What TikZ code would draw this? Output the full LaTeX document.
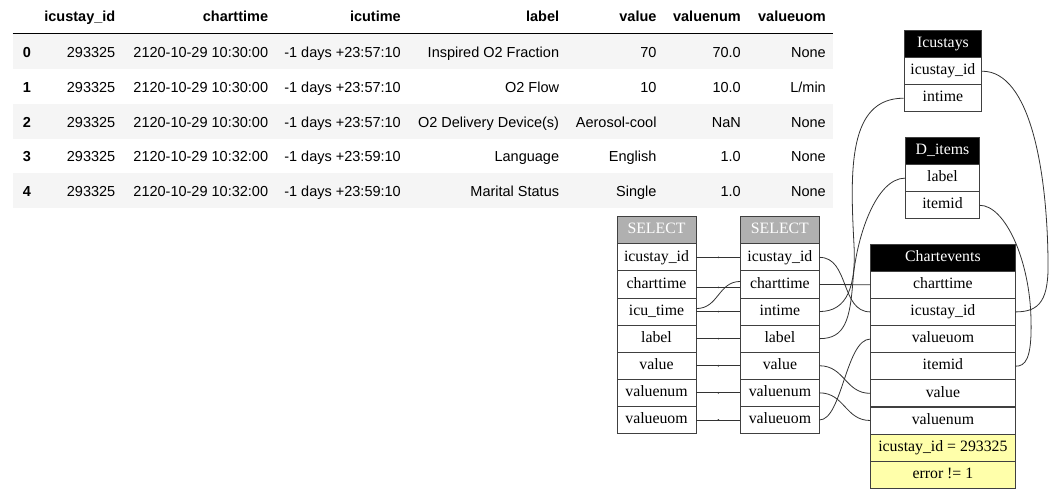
\documentclass[tikz,border=0pt]{standalone}
\usepackage{fontspec}
\newfontfamily\dffont{Liberation Sans}
\newfontfamily\gvfont{Liberation Serif}
\definecolor{rowgray}{HTML}{F5F5F5}
\definecolor{selgray}{HTML}{B0B0B0}
\definecolor{condyellow}{HTML}{FFFFAA}
\definecolor{linegray}{HTML}{333333}
\newcommand\dfrow[9]{%
  \node[dfidx] (r#1i) at (22.7,#2) {#1};
  \node[dfcell] (r#1a) at (115.5,#2) {#3};
  \node[dfcell] (r#1b) at (268.3,#2) {#4};
  \node[dfcell] (r#1c) at (401,#2) {#5};
  \node[dfcell] (r#1d) at (559.3,#2) {#6};
  \node[dfcell] (r#1e) at (656.7,#2) {#7};
  \node[dfcell] (r#1f) at (741,#2) {#8};
  \node[dfcell] (r#1g) at (826,#2) {#9};
}
\begin{document}
\begin{tikzpicture}[x=1pt,y=-1pt,
  dfcell/.style={anchor=base east, inner sep=0pt, font=\dffont\fontsize{14.5}{17}\selectfont},
  dfhead/.style={anchor=base east, inner sep=0pt, font=\dffont\bfseries\fontsize{14.5}{17}\selectfont},
  dfidx/.style={anchor=base west, inner sep=0pt, font=\dffont\bfseries\fontsize{14.5}{17}\selectfont},
  gvcell/.style={draw=black!75, line width=0.9pt, inner sep=0pt, minimum height=27.1pt,
     text height=10.5pt, text depth=3.2pt, font=\gvfont\fontsize{15.8}{18}\selectfont},
  selhead/.style={gvcell, fill=selgray, text=white},
  tabhead/.style={gvcell, fill=black, text=white},
  cond/.style={gvcell, fill=condyellow},
  edge/.style={draw=linegray, line width=0.8pt},
  midtick/.style={circle, fill=linegray, inner sep=0pt, minimum size=1.8pt}
]
\useasboundingbox (0,0) rectangle (1059,496);
% ---------- data frame ----------
\fill[rowgray] (12.7,34) rectangle (833,69);
\fill[rowgray] (12.7,104) rectangle (833,139);
\fill[rowgray] (12.7,173) rectangle (833,208);
\draw[line width=1.3pt] (12.7,33.6) -- (833,33.6);
\node[dfhead] (hid) at (115.5,21.5) {icustay\_id};
\node[dfhead] (hct) at (268.3,21.5) {charttime};
\node[dfhead] (hit) at (401,21.5) {icutime};
\node[dfhead] (hlb) at (559.3,21.5) {label};
\node[dfhead] (hva) at (656.7,21.5) {value};
\node[dfhead] (hvn) at (741,21.5) {valuenum};
\node[dfhead] (hvu) at (826,21.5) {valueuom};
\dfrow{0}{57}{293325}{2120-10-29 10:30:00}{-1 days +23:57:10}{Inspired O2 Fraction}{70}{70.0}{None}
\dfrow{1}{92.6}{293325}{2120-10-29 10:30:00}{-1 days +23:57:10}{O2 Flow}{10}{10.0}{L/min}
\dfrow{2}{127}{293325}{2120-10-29 10:30:00}{-1 days +23:57:10}{O2 Delivery Device(s)}{Aerosol-cool}{NaN}{None}
\dfrow{3}{161.3}{293325}{2120-10-29 10:32:00}{-1 days +23:59:10}{Language}{English}{1.0}{None}
\dfrow{4}{196}{293325}{2120-10-29 10:32:00}{-1 days +23:59:10}{Marital Status}{Single}{1.0}{None}
% ---------- SELECT 1 ----------
\begin{scope}[every node/.append style={minimum width=79pt}]
\node[selhead] (s1h)  at (656.5,230.25) {SELECT};
\node[gvcell]  (s1id) at (656.5,257.35) {icustay\_id};
\node[gvcell]  (s1ct) at (656.5,284.45) {charttime};
\node[gvcell]  (s1it) at (656.5,311.55) {icu\_time};
\node[gvcell]  (s1lb) at (656.5,338.65) {label};
\node[gvcell]  (s1va) at (656.5,365.75) {value};
\node[gvcell]  (s1vn) at (656.5,392.85) {valuenum};
\node[gvcell]  (s1vu) at (656.5,419.95) {valueuom};
\end{scope}
% ---------- SELECT 2 ----------
\begin{scope}[every node/.append style={minimum width=78.3pt}]
\node[selhead] (s2h)  at (779.9,230.25) {SELECT};
\node[gvcell]  (s2id) at (779.9,257.35) {icustay\_id};
\node[gvcell]  (s2ct) at (779.9,284.45) {charttime};
\node[gvcell]  (s2in) at (779.9,311.55) {intime};
\node[gvcell]  (s2lb) at (779.9,338.65) {label};
\node[gvcell]  (s2va) at (779.9,365.75) {value};
\node[gvcell]  (s2vn) at (779.9,392.85) {valuenum};
\node[gvcell]  (s2vu) at (779.9,419.95) {valueuom};
\end{scope}
% ---------- Chartevents ----------
\begin{scope}[every node/.append style={minimum width=144.3pt, minimum height=27.15pt}]
\node[tabhead] (ceh)    at (942.9,257.6) {Chartevents};
\node[gvcell]  (cect)   at (942.9,284.75) {charttime};
\node[gvcell]  (ceid)   at (942.9,311.9) {icustay\_id};
\node[gvcell]  (ceuom)  at (942.9,339.05) {valueuom};
\node[gvcell]  (ceitem) at (942.9,366.2) {itemid};
\node[gvcell]  (ceval)  at (942.9,393.35) {value};
\node[gvcell]  (cevnum) at (942.9,420.5) {valuenum};
\node[cond]    (cey1)   at (942.9,447.65) {icustay\_id = 293325};
\node[cond]    (cey2)   at (942.9,474.8) {error != 1};
\end{scope}
% ---------- Icustays ----------
\begin{scope}[every node/.append style={minimum width=77.7pt, minimum height=27pt}]
\node[tabhead] (ich)  at (942.9,44.2) {Icustays};
\node[gvcell]  (icid) at (942.9,71.2) {icustay\_id};
\node[gvcell]  (icin) at (942.9,98.2) {intime};
\end{scope}
% ---------- D_items ----------
\begin{scope}[every node/.append style={minimum width=73.6pt, minimum height=27.2pt}]
\node[tabhead] (dih)  at (942.5,150.9) {D\_items};
\node[gvcell]  (dilb) at (942.5,178.1) {label};
\node[gvcell]  (diid) at (942.5,205.3) {itemid};
\end{scope}
% ---------- SELECT 1 -> SELECT 2 ----------
\draw[edge] (s1id.east) -- node[midtick] (t1) {} (s2id.west);
\draw[edge] ([yshift=-3pt]s1ct.east) -- node[midtick] (t2) {} ([yshift=-3pt]s2ct.west);
\draw[edge] ([yshift=3pt]s1it.east) .. controls +(22,0) and +(-22,0) .. ([yshift=3pt]s2ct.west);
\draw[edge] (s1it.east) -- node[midtick] (t3) {} (s2in.west);
\draw[edge] (s1lb.east) -- node[midtick] (t4) {} (s2lb.west);
\draw[edge] (s1va.east) -- node[midtick] (t5) {} (s2va.west);
\draw[edge] (s1vn.east) -- node[midtick] (t6) {} (s2vn.west);
\draw[edge] (s1vu.east) -- node[midtick] (t7) {} (s2vu.west);
% ---------- SELECT 2 -> tables ----------
\draw[edge] (s2id.east) .. controls +(30,0) and +(-30,0) .. (ceid.west);
\draw[edge] (s2ct.east) -- (cect.west);
\coordinate (j1) at (854,245);
\draw[edge] (s2in.east) .. controls (848,311.55) and (856,285) .. (j1)
            .. controls (850,170) and (848,98.2) .. (icin.west);
\coordinate (j2) at (853,280);
\draw[edge] (s2lb.east) .. controls (845,338.65) and (850,320) .. (j2)
            .. controls (856,240) and (875,178.1) .. (dilb.west);
\draw[edge] (s2va.east) .. controls +(25,0) and +(-25,0) .. (ceval.west);
\draw[edge] (s2vn.east) .. controls +(25,0) and +(-25,0) .. (cevnum.west);
\draw[edge] (s2vu.east) .. controls (842,419.95) and (846,339.05) .. (ceuom.west);
% ---------- right side ----------
\coordinate (j3) at (1048,260);
\draw[edge] (icid.east) .. controls (1030,71.2) and (1047,170) .. (j3)
            .. controls (1049,300) and (1040,311.9) .. (ceid.east);
\coordinate (j4) at (1031,320);
\draw[edge] (diid.east) .. controls (1005,205.3) and (1030,260) .. (j4)
            .. controls (1032,360) and (1025,366.2) .. (ceitem.east);
\end{tikzpicture}
\end{document}
